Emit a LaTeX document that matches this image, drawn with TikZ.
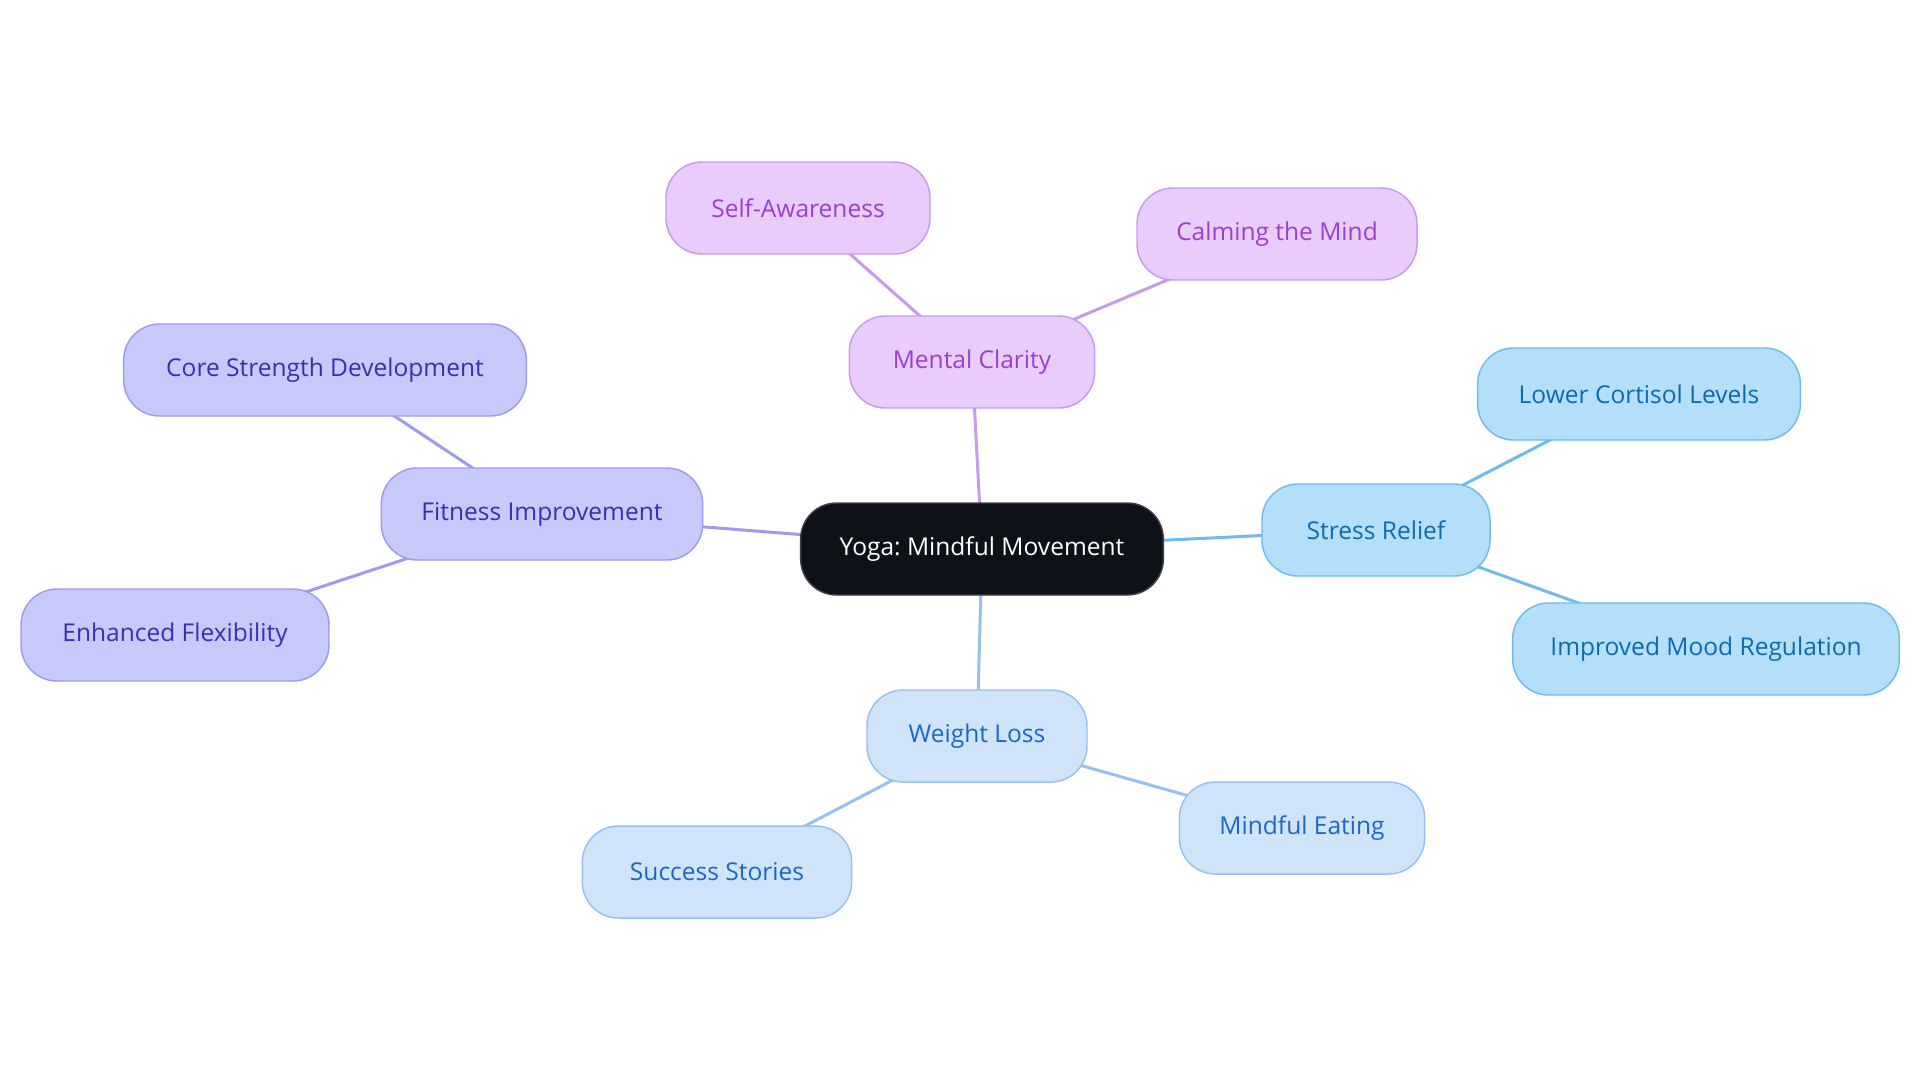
\documentclass[tikz,border=0pt]{standalone}
\usepackage{fontspec}
\setmainfont{Open Sans}
\usetikzlibrary{backgrounds}
\frenchspacing
\definecolor{rootfill}{HTML}{0E1117}
\definecolor{rootline}{HTML}{3C4048}
\definecolor{clarityfill}{HTML}{E8CCFC}
\definecolor{clarityline}{HTML}{C69BEA}
\definecolor{claritytext}{HTML}{9B3FCF}
\definecolor{fitnessfill}{HTML}{C8C9FB}
\definecolor{fitnessline}{HTML}{9D9CEA}
\definecolor{fitnesstext}{HTML}{3730B0}
\definecolor{stressfill}{HTML}{B3DFFB}
\definecolor{stressline}{HTML}{72BAE8}
\definecolor{stresstext}{HTML}{0D6BAD}
\definecolor{weightfill}{HTML}{CFE4FB}
\definecolor{weightline}{HTML}{98C0EC}
\definecolor{weighttext}{HTML}{1E66C4}
\begin{document}
\begin{tikzpicture}[x=0.75pt,y=-0.75pt,
    pill/.style={draw,line width=1.1pt,rounded corners=27pt,minimum height=69pt,
        inner sep=0pt,font=\fontsize{18.4}{22}\selectfont},
    root/.style={pill,fill=rootfill,draw=rootline,text=white},
    clarity/.style={pill,fill=clarityfill,draw=clarityline,text=claritytext},
    fitness/.style={pill,fill=fitnessfill,draw=fitnessline,text=fitnesstext},
    stress/.style={pill,fill=stressfill,draw=stressline,text=stresstext},
    weight/.style={pill,fill=weightfill,draw=weightline,text=weighttext},
    link/.style={line width=2.25pt}]

\useasboundingbox (0,0) rectangle (1920,1083);

	% centre
	\node[root,minimum width=272pt] (yoga) at (982,549) {Yoga: Mindful Movement};

	% mental clarity
	\node[clarity,minimum width=184pt] (clarity) at (972,362) {Mental Clarity};
	\node[clarity,minimum width=198pt] (aware) at (798,208) {Self-Awareness};
	\node[clarity,minimum width=210pt] (calm) at (1277,234) {Calming the Mind};

	% fitness
	\node[fitness,minimum width=241pt] (fitness) at (542,514) {Fitness Improvement};
	\node[fitness,minimum width=302pt] (core) at (325,370) {Core Strength Development};
	\node[fitness,minimum width=231pt] (flex) at (175,635) {Enhanced Flexibility};

	% stress relief
	\node[stress,minimum width=171pt] (stress) at (1376,530) {Stress Relief};
	\node[stress,minimum width=242pt] (cortisol) at (1639,394) {Lower Cortisol Levels};
	\node[stress,minimum width=290pt] (mood) at (1706,649) {Improved Mood Regulation};

	% weight loss
	\node[weight,minimum width=165pt] (weight) at (977,736) {Weight Loss};
	\node[weight,minimum width=184pt] (eating) at (1302,828) {Mindful Eating};
	\node[weight,minimum width=202pt] (stories) at (717,872) {Success Stories};

\begin{scope}[on background layer]
	\draw[link,clarityline] (yoga.center) -- (clarity.center);
	\draw[link,clarityline] (clarity.center) -- (aware.center);
	\draw[link,clarityline] (clarity.center) -- (calm.center);
	\draw[link,fitnessline] (yoga.center) -- (fitness.center);
	\draw[link,fitnessline] (fitness.center) -- (core.center);
	\draw[link,fitnessline] (fitness.center) -- (flex.center);
	\draw[link,stressline] (yoga.center) -- (stress.center);
	\draw[link,stressline] (stress.center) -- (cortisol.center);
	\draw[link,stressline] (stress.center) -- (mood.center);
	\draw[link,weightline] (yoga.center) -- (weight.center);
	\draw[link,weightline] (weight.center) -- (eating.center);
	\draw[link,weightline] (weight.center) -- (stories.center);
\end{scope}

\end{tikzpicture}
\end{document}
